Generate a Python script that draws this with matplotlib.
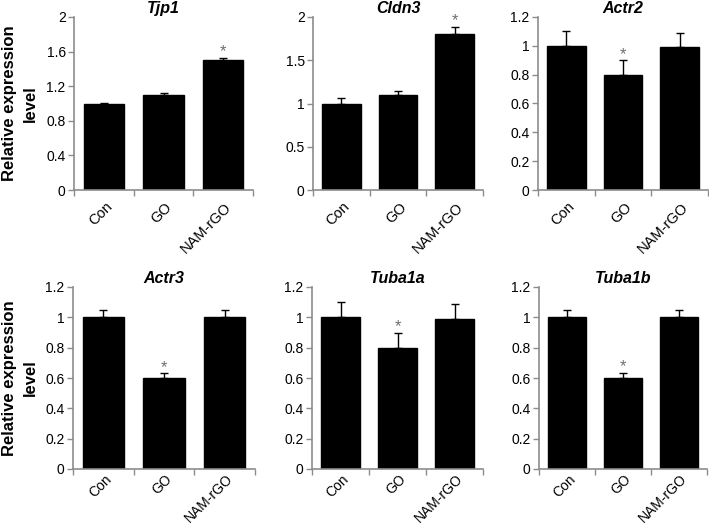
import numpy as np
import matplotlib
matplotlib.use('Agg')
import matplotlib.pyplot as plt

plt.rcParams['font.family'] = ['Liberation Sans', 'DejaVu Sans']

groups = ['Con', 'GO', 'NAM-rGO']
genes = ['Tjp1', 'Cldn3', 'Actr2', 'Actr3', 'Tuba1a', 'Tuba1b']

means = {
    'Tjp1': [1.0, 1.1, 1.5],
    'Cldn3': [1.0, 1.1, 1.8],
    'Actr2': [1.0, 0.8, 0.99],
    'Actr3': [1.0, 0.6, 1.0],
    'Tuba1a': [1.0, 0.8, 0.99],
    'Tuba1b': [1.0, 0.6, 1.0],
}
errors = {
    'Tjp1': [0.01, 0.02, 0.03],
    'Cldn3': [0.06, 0.05, 0.09],
    'Actr2': [0.1, 0.1, 0.1],
    'Actr3': [0.05, 0.03, 0.05],
    'Tuba1a': [0.1, 0.1, 0.1],
    'Tuba1b': [0.05, 0.035, 0.05],
}
# index of the bar marked with an asterisk
starred = {'Tjp1': 2, 'Cldn3': 2, 'Actr2': 1, 'Actr3': 1, 'Tuba1a': 1, 'Tuba1b': 1}
yticks = {
    'Tjp1': [0, 0.4, 0.8, 1.2, 1.6, 2],
    'Cldn3': [0, 0.5, 1, 1.5, 2],
    'Actr2': [0, 0.2, 0.4, 0.6, 0.8, 1, 1.2],
    'Actr3': [0, 0.2, 0.4, 0.6, 0.8, 1, 1.2],
    'Tuba1a': [0, 0.2, 0.4, 0.6, 0.8, 1, 1.2],
    'Tuba1b': [0, 0.2, 0.4, 0.6, 0.8, 1, 1.2],
}

W, H = 709, 528
# axes boxes in pixels: left, top, right, bottom
boxes = [
    (74, 17, 253, 190), (313, 17, 483, 190), (538, 17, 708, 190),
    (73, 287, 255, 469), (312, 287, 483, 469), (539, 287, 707, 469),
]

spine = '#8c8c8c'
fig = plt.figure(figsize=(W / 100, H / 100), dpi=100)

for k, (gene, (l, t, r, b)) in enumerate(zip(genes, boxes)):
    ax = fig.add_axes([l / W, (H - b) / H, (r - l) / W, (b - t) / H])
    x = np.arange(len(groups))
    vals = means[gene]
    errs = errors[gene]
    ax.bar(x, vals, width=0.68, color='black', edgecolor='black', zorder=2)
    ax.errorbar(x, vals, yerr=[np.zeros(len(errs)), errs], fmt='none',
                ecolor='black', elinewidth=1, capsize=3, capthick=1, zorder=3)
    i = starred[gene]
    ax.annotate('*', (x[i], vals[i] + errs[i]), xytext=(0, -1),
                textcoords='offset points', ha='center', va='bottom',
                fontsize=12, color='#707070')

    top_row = k < 3
    ax.set_xlim(-0.5, len(groups) - 0.5)
    ax.set_ylim(0, yticks[gene][-1])
    ax.set_yticks(yticks[gene])
    ax.set_yticklabels([f'{v:g}' for v in yticks[gene]], fontsize=10)
    ax.set_xticks(np.arange(len(groups) + 1) - 0.5)
    ax.set_xticklabels([])
    ax.set_xticks(x + 0.02, minor=True)
    ax.set_xticklabels(groups, minor=True, rotation=45, ha='right',
                       rotation_mode='anchor',
                       fontsize=10.5 if top_row else 10)
    ax.tick_params(axis='x', which='minor', length=0,
                   pad=7 if top_row else 2)
    ax.tick_params(axis='both', which='major', direction='out', length=4,
                   color=spine, width=1)
    ax.tick_params(axis='y', pad=2)
    for s in ['top', 'right']:
        ax.spines[s].set_visible(False)
    for s in ['left', 'bottom']:
        ax.spines[s].set_color(spine)
        ax.spines[s].set_linewidth(1.2)
    ax.set_title(gene, fontsize=11.5, fontweight='bold', style='italic', pad=3)

for t, b in [(17, 190), (287, 469)]:
    fig.text(20 / W, 1 - (t + b) / 2 / H, 'Relative expression\nlevel',
             rotation=90, ha='center', va='center', multialignment='center',
             fontsize=12, fontweight='bold', linespacing=1.45)

fig.savefig('out.png', dpi=100)
